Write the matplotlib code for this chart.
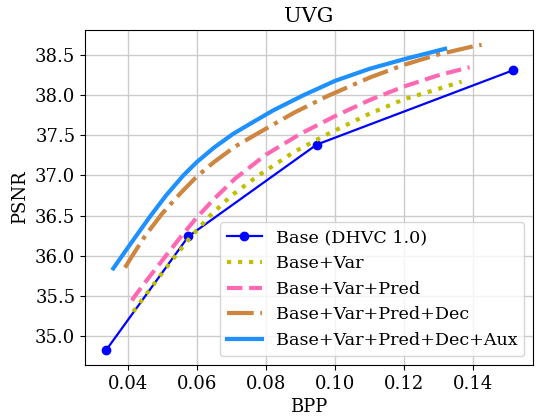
import matplotlib
matplotlib.use("Agg")
import matplotlib.pyplot as plt
import numpy as np

plt.rcParams['font.family'] = ['DejaVu Serif']

title = "UVG"
xlabel = "BPP"
ylabel = "PSNR"

labels = ["Base (DHVC 1.0)", "Base+Var", "Base+Var+Pred",
          "Base+Var+Pred+Dec", "Base+Var+Pred+Dec+Aux"]

base_bpp = [0.0337, 0.0575, 0.0947, 0.1515]
base_psnr = [34.825, 36.24, 37.385, 38.31]

var_bpp = [0.0415, 0.0500, 0.0575, 0.0638, 0.0700, 0.0778, 0.0880, 0.0971,
           0.1100, 0.1200, 0.1300, 0.1367]
var_psnr = [35.30, 35.79, 36.20, 36.50, 36.75, 37.00, 37.29, 37.50,
            37.77, 37.95, 38.08, 38.17]

pred_bpp = [0.0411, 0.0417, 0.0450, 0.0510, 0.0550, 0.0600, 0.0650, 0.0710,
            0.0800, 0.0900, 0.1000, 0.1100, 0.1200, 0.1300, 0.1390]
pred_psnr = [35.44, 35.48, 35.67, 36.00, 36.22, 36.48, 36.71, 36.96,
             37.26, 37.52, 37.74, 37.94, 38.11, 38.25, 38.35]

dec_bpp = [0.0391, 0.0411, 0.0450, 0.0498, 0.0550, 0.0600, 0.0650, 0.0710,
           0.0778, 0.0880, 0.0978, 0.1100, 0.1200, 0.1300, 0.1400, 0.1425]
dec_psnr = [35.85, 35.99, 36.25, 36.52, 36.77, 36.99, 37.17, 37.36,
            37.53, 37.78, 37.99, 38.22, 38.38, 38.51, 38.61, 38.63]

aux_bpp = [0.0357, 0.0383, 0.0420, 0.0464, 0.0510, 0.0560, 0.0600, 0.0650,
           0.0705, 0.0760, 0.0820, 0.0908, 0.1000, 0.1100, 0.1200, 0.1319]
aux_psnr = [35.84, 36.00, 36.225, 36.49, 36.75, 37.00, 37.17, 37.35,
            37.52, 37.66, 37.81, 38.00, 38.18, 38.33, 38.45, 38.58]

fig = plt.figure(figsize=(5.36, 4.16), dpi=100)
ax = fig.add_axes([0.1586, 0.1226, 0.8358, 0.8054])

ax.plot(base_bpp, base_psnr, color='#0000ff', linestyle='-', linewidth=1.6,
        marker='o', markersize=6, label=labels[0], zorder=3)
ax.plot(var_bpp, var_psnr, color='#bfbf00', linestyle=':', linewidth=3,
        label=labels[1], zorder=3)
ax.plot(pred_bpp, pred_psnr, color='#ff69b4', linestyle='--', linewidth=3,
        label=labels[2], zorder=3)
ax.plot(dec_bpp, dec_psnr, color='#cd853f', linestyle='-.', linewidth=3,
        label=labels[3], zorder=3)
ax.plot(aux_bpp, aux_psnr, color='#1e90ff', linestyle='-', linewidth=3,
        label=labels[4], zorder=3)

ax.set_xlim(0.0275, 0.1574)
ax.set_ylim(34.635, 38.815)
ax.set_xticks([0.04, 0.06, 0.08, 0.10, 0.12, 0.14])
ax.set_xticklabels(["0.04", "0.06", "0.08", "0.10", "0.12", "0.14"])
ax.set_yticks([35.0, 35.5, 36.0, 36.5, 37.0, 37.5, 38.0, 38.5])
ax.tick_params(labelsize=13)
ax.grid(True, color='#cccccc', linewidth=1)
ax.set_axisbelow(True)

ax.set_title(title, fontsize=15)
ax.set_xlabel(xlabel, fontsize=13)
ax.set_ylabel(ylabel, fontsize=13)
ax.legend(loc='lower right', fontsize=12.6)

fig.savefig("out.png", dpi=100)
